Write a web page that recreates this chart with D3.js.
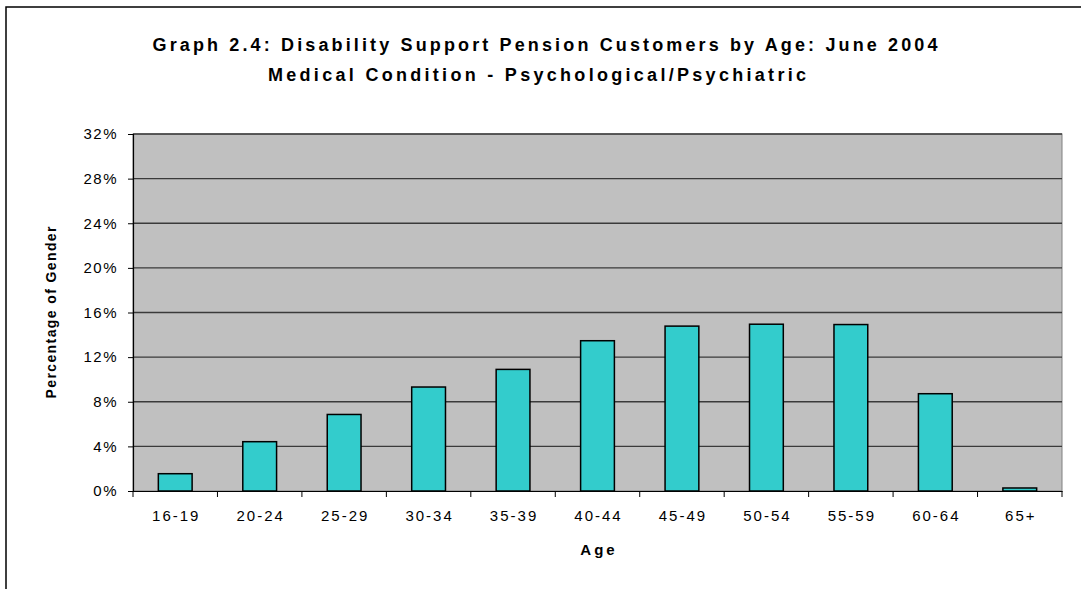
<!DOCTYPE html>
<html><head><meta charset="utf-8">
<script src="https://cdn.jsdelivr.net/npm/d3@7"></script>
<style>body{margin:0;background:#fff}svg{display:block}text{font-family:"Liberation Sans",Arial,sans-serif}</style>
</head><body>
<script>
const titleLines = ["Graph 2.4: Disability Support Pension Customers by Age: June 2004", "Medical Condition - Psychological/Psychiatric"];
const categories = ["16-19","20-24","25-29","30-34","35-39","40-44","45-49","50-54","55-59","60-64","65+"];
const values = [1.55, 4.42, 6.86, 9.32, 10.9, 13.47, 14.78, 14.95, 14.92, 8.72, 0.27];
const yTicks = [0, 4, 8, 12, 16, 20, 24, 28, 32];
const xTitle = "Age";
const yTitle = "Percentage of Gender";

const W = 1081, H = 589;
const m = {left: 133, right: 1062, top: 134, bottom: 491};
const svg = d3.select("body").append("svg").attr("width", W).attr("height", H);

// outer frame
svg.append("rect").attr("x", 6).attr("y", 7).attr("width", W + 10).attr("height", H + 10)
  .attr("fill", "none").attr("stroke", "#000").attr("stroke-width", 1.5);

const x = d3.scaleBand().domain(categories).range([m.left, m.right]).paddingInner(0.6).paddingOuter(0.3);
const xb = d3.scaleBand().domain(categories).range([m.left, m.right]);
const y = d3.scaleLinear().domain([0, 32]).range([m.bottom, m.top]);

// plot background
svg.append("rect").attr("x", m.left).attr("y", m.top).attr("width", m.right - m.left).attr("height", m.bottom - m.top)
  .attr("fill", "#C0C0C0").attr("stroke", "#808080").attr("stroke-width", 1);

// grid
svg.append("g").selectAll("line").data(yTicks.filter(d => d > 0)).join("line")
  .attr("x1", m.left).attr("x2", m.right).attr("y1", d => y(d)).attr("y2", d => y(d))
  .attr("stroke", "#3a3a3a").attr("stroke-width", 1.3);

// bars
svg.append("g").selectAll("rect").data(values).join("rect")
  .attr("x", (d, i) => x(categories[i])).attr("width", x.bandwidth())
  .attr("y", d => y(d)).attr("height", d => y(0) - y(d))
  .attr("fill", "#33CCCC").attr("stroke", "#000").attr("stroke-width", 1.5);

// y axis
const yAxis = svg.append("g").attr("transform", `translate(${m.left},0)`)
  .call(d3.axisLeft(y).tickValues(yTicks).tickFormat(d => d + "%").tickSize(5).tickPadding(10));
yAxis.select(".domain").attr("stroke", "#000").attr("stroke-width", 1.2);
yAxis.selectAll(".tick line").attr("stroke", "#000");
yAxis.selectAll("text").attr("font-size", 15).attr("fill", "#000").attr("letter-spacing", "1.5px");

// x axis
const xAxis = svg.append("g").attr("transform", `translate(0,${m.bottom})`)
  .call(d3.axisBottom(xb).tickSize(0).tickPadding(19));
xAxis.select(".domain").attr("stroke", "#000").attr("stroke-width", 1.2);
xAxis.selectAll("text").attr("font-size", 15).attr("fill", "#000").attr("letter-spacing", "2px")
  .attr("dx", "1px");
// category boundary ticks
svg.append("g").selectAll("line").data(categories.concat([null])).join("line")
  .attr("x1", (d, i) => i < categories.length ? xb(d) : m.right)
  .attr("x2", (d, i) => i < categories.length ? xb(d) : m.right)
  .attr("y1", m.bottom).attr("y2", m.bottom + 6).attr("stroke", "#000").attr("stroke-width", 1);

// titles
svg.append("text").attr("x", 545).attr("y", 51).attr("text-anchor", "middle")
  .attr("font-size", 18).attr("font-weight", "bold").attr("textLength", 785).attr("lengthAdjust", "spacing")
  .text(titleLines[0]);
svg.append("text").attr("x", 537).attr("y", 81).attr("text-anchor", "middle")
  .attr("font-size", 18).attr("font-weight", "bold").attr("textLength", 538).attr("lengthAdjust", "spacing")
  .text(titleLines[1]);

svg.append("text").attr("x", (m.left + m.right) / 2 + 1.5).attr("y", 555).attr("text-anchor", "middle")
  .attr("font-size", 15).attr("font-weight", "bold").attr("letter-spacing", "3px").text(xTitle);

svg.append("text").attr("transform", `translate(56,${(m.top + m.bottom) / 2}) rotate(-90)`)
  .attr("text-anchor", "middle").attr("font-size", 14).attr("font-weight", "bold")
  .attr("textLength", 172).attr("lengthAdjust", "spacing").text(yTitle);
</script>
</body></html>
